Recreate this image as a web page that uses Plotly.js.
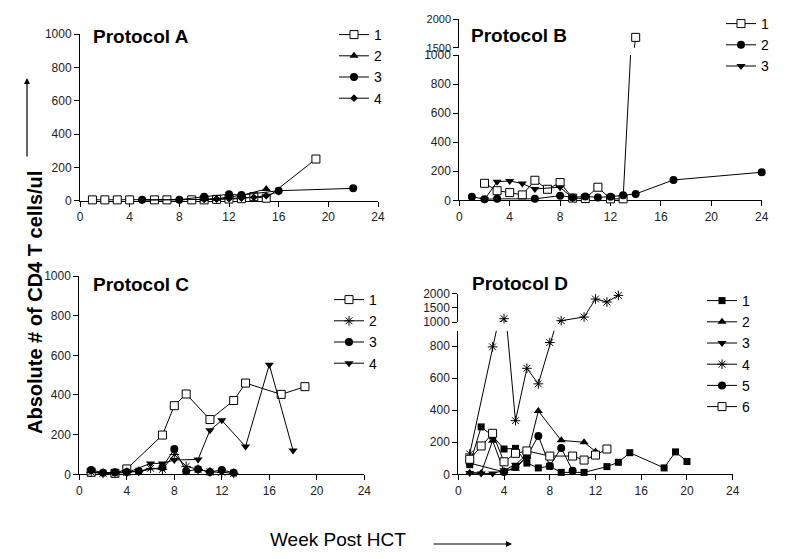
<!DOCTYPE html>
<html><head><meta charset="utf-8">
<script src="https://cdn.plot.ly/plotly-3.0.1.min.js"></script>
<style>html,body{margin:0;padding:0;background:#fff}</style>
</head><body><div id="chart" style="width:800px;height:559px"></div>
<script>
// ---------- data ----------
const weekTicks = [0, 4, 8, 12, 16, 20, 24];
const cellTicks = [0, 200, 400, 600, 800, 1000];

// Protocol A
const a1x = [1, 2, 3, 4, 6, 7, 9, 10, 11, 12, 13, 14, 15, 19];
const a1y = [5, 5, 5, 5, 5, 5, 5, 5, 8, 10, 12, 24, 15, 250];
const a2x = [10, 11, 12, 13, 15];
const a2y = [8, 12, 22, 32, 70];
const a3x = [5, 8, 10, 12, 13, 16, 22];
const a3y = [6, 6, 24, 38, 34, 60, 74];
const a4x = [5, 8, 10, 11, 12, 13, 14, 15, 16];
const a4y = [2, 3, 8, 10, 12, 15, 20, 30, 55];

// Protocol B (broken axis)
const b1x = [2, 3, 4, 5, 6, 7, 8, 9, 10, 11, 12, 13, 14];
const b1y = [117, 66, 53, 37, 138, 76, 122, 15, 12, 90, 10, 10, 1680];
const b2x = [1, 2, 3, 6, 8, 9, 10, 11, 12, 13, 14, 17, 24];
const b2y = [25, 7, 10, 10, 32, 20, 27, 20, 25, 34, 44, 140, 193];
const b3x = [2, 3, 4, 5, 6, 8, 9];
const b3y = [5, 128, 133, 115, 78, 90, 15];

// Protocol C
const c1x = [1, 3, 4, 7, 8, 9, 11, 13, 14, 17, 19];
const c1y = [10, 5, 27, 198, 346, 405, 276, 372, 460, 403, 442];
const c2x = [1, 2, 3, 4, 5, 6, 7, 8, 9, 10, 11, 12, 13];
const c2y = [10, 5, 5, 10, 15, 30, 25, 100, 40, 25, 12, 10, 5];
const c3x = [1, 2, 3, 4, 5, 7, 8, 9, 10, 11, 12, 13];
const c3y = [22, 8, 10, 12, 15, 35, 128, 15, 25, 12, 22, 8];
const c4x = [4, 6, 7, 8, 10, 11, 12, 14, 16, 18];
const c4y = [8, 55, 55, 72, 75, 222, 272, 140, 553, 120];

// Protocol D (broken axis)
const d1x = [1, 2, 3, 4, 5, 6, 7, 8, 9, 11, 13, 14, 15, 18, 19, 20];
const d1y = [60, 296, 240, 158, 162, 70, 40, 50, 12, 12, 48, 75, 135, 40, 140, 80];
const d2x = [1, 2, 3, 4, 5, 6, 7, 9, 11, 12];
const d2y = [10, 8, 210, 20, 35, 110, 395, 212, 200, 143];
const d3x = [1, 2, 3, 4, 5, 6];
const d3y = [8, 5, 5, 25, 60, 125];
const d4x = [1, 3, 4, 5, 6, 7, 8, 9, 11, 12, 13, 14];
const d4y = [127, 796, 1118, 335, 662, 565, 823, 1047, 1176, 1812, 1706, 1941];
const d5x = [1, 4, 5, 6, 7, 8, 9, 10];
const d5y = [70, 15, 45, 110, 240, 52, 165, 22];
const d6x = [1, 2, 3, 4, 5, 6, 8, 10, 11, 12, 13];
const d6y = [94, 177, 256, 78, 131, 146, 114, 114, 89, 120, 158];

// ---------- styles ----------
const FONT = 'Liberation Sans, Arial, sans-serif';
const STY = {
  sqOpen: {symbol: 'square', size: 8, color: '#fff', lc: '#000', lw: 1},
  sqFill: {symbol: 'square', size: 7, color: '#000', lc: '#000', lw: 0},
  triUp: {symbol: 'triangle-up', size: 8, color: '#000', lc: '#000', lw: 0},
  triDn: {symbol: 'triangle-down', size: 8, color: '#000', lc: '#000', lw: 0},
  circ: {symbol: 'circle', size: 8, color: '#000', lc: '#000', lw: 0},
  diam: {symbol: 'diamond', size: 6, color: '#000', lc: '#000', lw: 0},
  ast: {symbol: 'asterisk-open', size: 8, color: '#000', lc: '#000', lw: 1}
};

function trace(name, xs, ys, sty, xa, ya, legend, visibleFn, showLeg) {
  const color = visibleFn ? ys.map(v => visibleFn(v) ? sty.color : 'rgba(0,0,0,0)') : sty.color;
  const lcol = visibleFn ? ys.map(v => visibleFn(v) ? sty.lc : 'rgba(0,0,0,0)') : sty.lc;
  return {
    type: 'scatter', mode: 'lines+markers', name: name, x: xs, y: ys,
    xaxis: xa, yaxis: ya, legend: legend, showlegend: showLeg !== false,
    cliponaxis: false, hoverinfo: 'skip',
    line: {color: '#000', width: 1},
    marker: {symbol: sty.symbol, size: sty.size, color: color, line: {color: lcol, width: sty.lw}}
  };
}

const traces = [];
// A
traces.push(trace('1', a1x, a1y, STY.sqOpen, 'x', 'y', 'legend'));
traces.push(trace('2', a2x, a2y, STY.triUp, 'x', 'y', 'legend'));
traces.push(trace('3', a3x, a3y, STY.circ, 'x', 'y', 'legend'));
traces.push(trace('4', a4x, a4y, STY.diam, 'x', 'y', 'legend'));
// B
const bLowMax = 1000, bUpMin = 1500;
[[b1x, b1y, STY.sqOpen, '1'], [b2x, b2y, STY.circ, '2'], [b3x, b3y, STY.triDn, '3']].forEach(([xs, ys, s, n]) => {
  traces.push(trace(n, xs, ys, s, 'x2', 'y2', 'legend2', v => v <= bLowMax));
  traces.push(trace(n, xs, ys, s, 'x2', 'y3', 'legend2', v => v >= bUpMin, false));
});
// C
traces.push(trace('1', c1x, c1y, STY.sqOpen, 'x3', 'y4', 'legend3'));
traces.push(trace('2', c2x, c2y, STY.ast, 'x3', 'y4', 'legend3'));
traces.push(trace('3', c3x, c3y, STY.circ, 'x3', 'y4', 'legend3'));
traces.push(trace('4', c4x, c4y, STY.triDn, 'x3', 'y4', 'legend3'));
// D
const dLowMax = 897, dUpMin = 1000;
[[d1x, d1y, STY.sqFill, '1'], [d2x, d2y, STY.triUp, '2'], [d3x, d3y, STY.triDn, '3'],
 [d4x, d4y, STY.ast, '4'], [d5x, d5y, STY.circ, '5'], [d6x, d6y, STY.sqOpen, '6']].forEach(([xs, ys, s, n]) => {
  traces.push(trace(n, xs, ys, s, 'x4', 'y5', 'legend4', v => v <= dLowMax));
  traces.push(trace(n, xs, ys, s, 'x4', 'y6', 'legend4', v => v >= dUpMin, false));
});

// ---------- layout ----------
const W = 800, H = 559;
const px = v => v / W, py = v => 1 - v / H;
const tickFont = {family: FONT, size: 12, color: '#222'};
function xAx(l, r, anchor) {
  return {domain: [px(l), px(r)], anchor: anchor, range: [0, 24], tickvals: weekTicks,
    showline: true, linecolor: '#000', linewidth: 1, ticks: 'outside', ticklen: 5, tickcolor: '#000',
    showgrid: false, zeroline: false, tickfont: tickFont, layer: 'below traces', fixedrange: true};
}
function yAx(bot, top, anchor, range, tv, tf) {
  return {domain: [py(bot), py(top)], anchor: anchor, range: range, tickvals: tv,
    showline: true, linecolor: '#000', linewidth: 1, ticks: 'outside', ticklen: 5, tickcolor: '#000',
    showgrid: false, zeroline: false, tickfont: tf || tickFont, layer: 'below traces', fixedrange: true};
}
function leg(left, top) {
  return {x: px(left), y: py(top), xanchor: 'left', yanchor: 'top', bgcolor: 'rgba(0,0,0,0)',
    font: {family: FONT, size: 14, color: '#000'}, borderwidth: 0};
}
function title(t, left, cy) {
  return {text: t, x: px(left), y: py(cy), xref: 'paper', yref: 'paper', xanchor: 'left', yanchor: 'middle',
    showarrow: false, font: {family: FONT, size: 19, color: '#000', weight: 'bold'}};
}

const smallTick = {family: FONT, size: 11, color: '#222'};
const layout = {
  width: W, height: H, autosize: false, margin: {l: 0, r: 0, t: 0, b: 0},
  paper_bgcolor: '#fff', plot_bgcolor: 'rgba(0,0,0,0)', showlegend: true,
  xaxis: xAx(80, 378, 'y'),
  yaxis: yAx(200.7, 34, 'x', [0, 1000], cellTicks),
  xaxis2: xAx(459.3, 761.7, 'y2'),
  yaxis2: yAx(200.3, 55, 'x2', [0, 1000], cellTicks),
  yaxis3: yAx(47.7, 19, 'x2', [1500, 2000], [1500, 2000], smallTick),
  xaxis3: xAx(79.3, 364.3, 'y4'),
  yaxis4: yAx(474.3, 276, 'x3', [0, 1000], cellTicks),
  xaxis4: xAx(458.3, 732.7, 'y5'),
  yaxis5: yAx(474.3, 330.7, 'x4', [0, dLowMax], [0, 200, 400, 600, 800]),
  yaxis6: yAx(322, 293.7, 'x4', [1000, 2000], [1000, 1500, 2000]),
  legend: leg(334, 19),
  legend2: leg(721, 8),
  legend3: leg(329, 284),
  legend4: leg(702, 285),
  annotations: [
    title('Protocol A', 91, 37),
    title('Protocol B', 469, 36),
    title('Protocol C', 91, 284),
    title('Protocol D', 470, 283),
    {text: 'Absolute # of CD4 T cells/ul', x: px(35), y: py(303), xref: 'paper', yref: 'paper',
     textangle: -90, showarrow: false, xanchor: 'center', yanchor: 'middle',
     font: {family: FONT, size: 20, color: '#000', weight: 'bold'}},
    {text: 'Week Post HCT', x: px(338), y: py(539), xref: 'paper', yref: 'paper',
     showarrow: false, xanchor: 'center', yanchor: 'middle',
     font: {family: FONT, size: 19, color: '#000'}},
    {text: '', x: px(27), y: py(78), xref: 'paper', yref: 'paper', showarrow: true,
     ax: 0, ay: 80, arrowhead: 2, arrowsize: 1, arrowwidth: 1.2, arrowcolor: '#000'},
    {text: '', x: px(512), y: py(544), xref: 'paper', yref: 'paper', showarrow: true,
     ax: -80, ay: 0, arrowhead: 2, arrowsize: 1, arrowwidth: 1.2, arrowcolor: '#000'}
  ]
};

Plotly.newPlot('chart', traces, layout, {staticPlot: true, displayModeBar: false});
</script></body></html>
